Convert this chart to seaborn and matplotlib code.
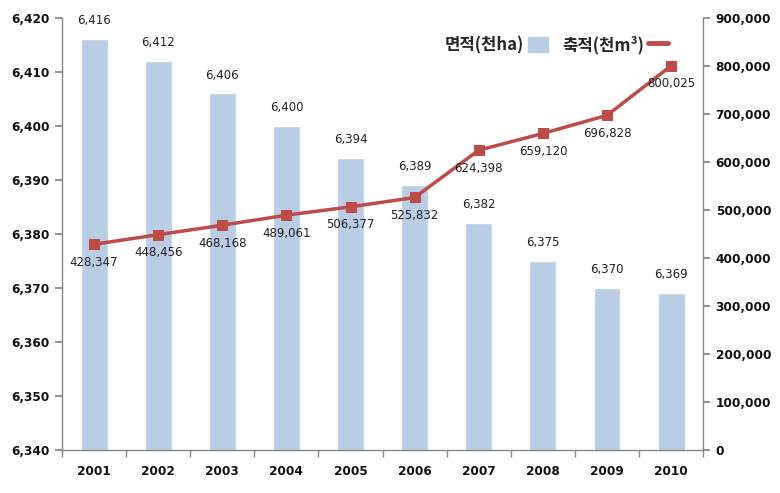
import numpy as np
import pandas as pd
import matplotlib
matplotlib.use("Agg")
import matplotlib.pyplot as plt
import seaborn as sns
from matplotlib.lines import Line2D
from matplotlib.patches import Patch
from matplotlib.ticker import FuncFormatter, MultipleLocator

# ==========================================
# data
# ==========================================
years = ["2001", "2002", "2003", "2004", "2005", "2006", "2007", "2008", "2009", "2010"]
area = [6416, 6412, 6406, 6400, 6394, 6389, 6382, 6375, 6370, 6369]          # 천ha
volume = [428347, 448456, 468168, 489061, 506377, 525832, 624398, 659120, 696828, 800025]  # 천m3

area_label = "면적(천ha)"
volume_label = "축적(천m³)"

sns.set_theme(style="white")
plt.rcParams['font.family'] = ['Noto Sans CJK KR', 'DejaVu Sans']
plt.rcParams['axes.unicode_minus'] = False

bar_color = "#b9cde5"
line_color = "#be4b48"
spine_color = "#868686"

df = pd.DataFrame({"year": years, "area": area, "volume": volume})

fig = plt.figure(figsize=(7.8, 4.93), dpi=100)
ax = fig.add_axes([0.0795, 0.087, 0.822, 0.877])

sns.barplot(data=df, x="year", y="area", color=bar_color, width=0.42,
            saturation=1, ax=ax)
ax.set_ylim(6340, 6420)
ax.yaxis.set_major_locator(MultipleLocator(10))
ax.yaxis.set_major_formatter(FuncFormatter(lambda v, p: f"{int(v):,}"))
ax.set_xlim(-0.5, len(years) - 0.5)
ax.set_xlabel("")
ax.set_ylabel("")

# bar value labels
for i, v in enumerate(area):
    ax.text(i, v + 2.2, f"{v:,}", ha="center", va="bottom", fontsize=8.5,
            family="DejaVu Sans", color="#222222")

ax2 = ax.twinx()
sns.lineplot(x=np.arange(len(years)), y=volume, ax=ax2, color=line_color,
             linewidth=2.5, marker="s", markersize=7.5, markeredgecolor=line_color)
ax2.set_ylim(0, 900000)
ax2.yaxis.set_major_locator(MultipleLocator(100000))
ax2.yaxis.set_major_formatter(FuncFormatter(lambda v, p: f"{int(v):,}"))
ax2.set_xlim(-0.5, len(years) - 0.5)

# line value labels under the markers
for i, v in enumerate(volume):
    ax2.text(i, v - 24000, f"{v:,}", ha="center", va="top", fontsize=8.5,
             family="DejaVu Sans", color="#222222")

# spines / ticks in Excel style
for a in (ax, ax2):
    a.spines["top"].set_visible(False)
    for side in ("left", "right", "bottom"):
        a.spines[side].set_color(spine_color)
        a.spines[side].set_linewidth(1.0)
ax.spines["right"].set_visible(False)
ax2.spines["left"].set_visible(False)
ax2.spines["bottom"].set_visible(False)

ax.tick_params(axis="y", direction="out", length=5, color=spine_color, left=True,
               labelsize=8.7, pad=4)
ax2.tick_params(axis="y", direction="out", length=5, color=spine_color, right=True,
                labelsize=8.7, pad=4)
ax.set_xticks(np.arange(len(years)))
ax.set_xticklabels(years)
ax.set_xticks(np.arange(len(years) + 1) - 0.5, minor=True)
ax.tick_params(axis="x", which="major", length=0, labelsize=8.7, pad=11)
ax.tick_params(axis="x", which="minor", direction="out", length=5,
               color=spine_color, bottom=True)
for lbl in ax.get_xticklabels() + ax.get_yticklabels() + ax2.get_yticklabels():
    lbl.set_fontweight("bold")
    lbl.set_family("DejaVu Sans")
    lbl.set_color("#111111")

ax.grid(False)
ax2.grid(False)

# legend: text first, then the key
handles = [Patch(facecolor=bar_color, edgecolor=bar_color),
           Line2D([0], [0], color=line_color, linewidth=3.5)]
leg = ax2.legend(handles, [area_label, volume_label], loc="center right",
                 bbox_to_anchor=(0.945, 0.9375), ncol=2, frameon=False,
                 markerfirst=False, fontsize=12, handlelength=1.2,
                 handleheight=1.0, columnspacing=0.9, handletextpad=0.2,
                 borderpad=0, borderaxespad=0)
for t in leg.get_texts():
    t.set_fontweight("bold")

fig.savefig("out.png", dpi=100)
